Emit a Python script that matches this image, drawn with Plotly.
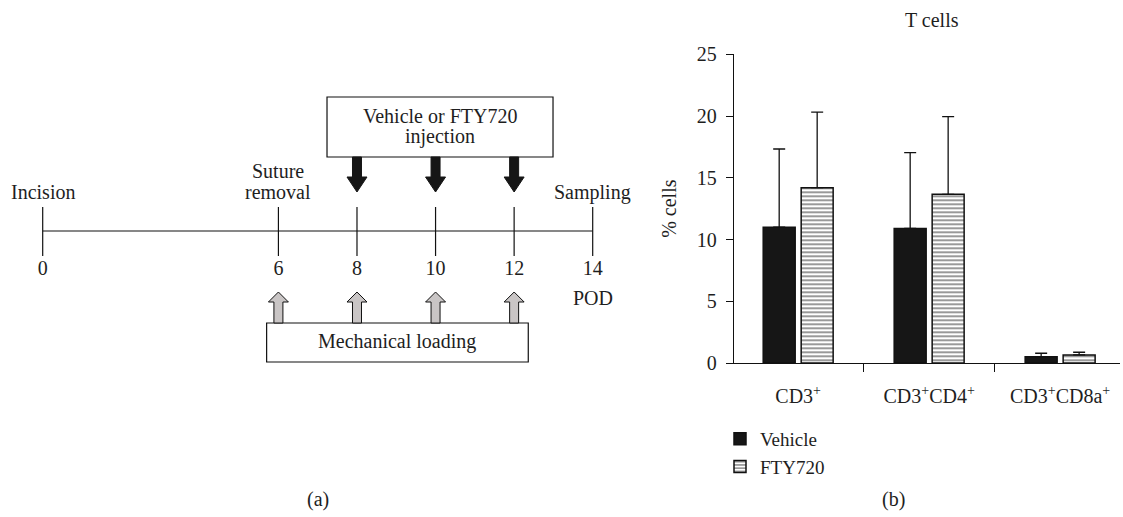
import plotly.graph_objects as go

# ---------------- data ----------------
CATEGORIES = ["CD3<sup>+</sup>", "CD3<sup>+</sup>CD4<sup>+</sup>", "CD3<sup>+</sup>CD8a<sup>+</sup>"]
VEHICLE_MEAN = [11.0, 10.9, 0.51]
VEHICLE_SD = [6.33, 6.13, 0.28]
FTY720_MEAN = [14.2, 13.66, 0.65]
FTY720_SD = [6.12, 6.29, 0.22]
SERIES_NAMES = ["Vehicle", "FTY720"]

TIMELINE_DAYS = [0, 6, 8, 10, 12, 14]
INJECTION_DAYS = [8, 10, 12]
LOADING_DAYS = [6, 8, 10, 12]
EVENT_DAYS = [0, 6, 14]
EVENT_LABELS = ["Incision", "Suture<br>removal", "Sampling"]
Y_TICKS = [0, 5, 10, 15, 20, 25]

# ---------------- style / layout constants ----------------
W, H = 1123, 517
FONT = "Liberation Serif"
TXT = "#1e1e1e"
FS = 20
LINE_H = 21  # line spacing of multi-line diagram labels (px)

# panel (a) axis: days on x, pixel rows on y
A_DOM_PX = (0, 640)
A_RANGE = (-1.087, 15.204)
PPD = (A_DOM_PX[1] - A_DOM_PX[0]) / (A_RANGE[1] - A_RANGE[0])  # px per day

fig = go.Figure()

# ---------- panel (b): bars ----------
fig.add_trace(go.Bar(
    x=CATEGORIES, y=VEHICLE_MEAN, name=SERIES_NAMES[0],
    marker=dict(color="#161616", line=dict(color="#111", width=1.5)),
    error_y=dict(type="data", symmetric=False, array=VEHICLE_SD,
                 arrayminus=[0] * len(VEHICLE_SD), color="#111", thickness=1.3, width=6),
    xaxis="x", yaxis="y",
))
fig.add_trace(go.Bar(
    x=CATEGORIES, y=FTY720_MEAN, name=SERIES_NAMES[1],
    marker=dict(color="white", line=dict(color="#111", width=1.5),
                pattern=dict(shape="-", fgcolor="#000", bgcolor="white", size=4, solidity=0.4)),
    error_y=dict(type="data", symmetric=False, array=FTY720_SD,
                 arrayminus=[0] * len(FTY720_SD), color="#111", thickness=1.3, width=6),
    xaxis="x", yaxis="y",
))

# ---------- panel (a): timeline ----------
tl_x, tl_y = [TIMELINE_DAYS[0], TIMELINE_DAYS[-1]], [231, 231]
fig.add_trace(go.Scatter(x=tl_x, y=tl_y, mode="lines", line=dict(color="#111", width=1.2),
                         xaxis="x2", yaxis="y2", showlegend=False, hoverinfo="skip"))
tx, ty = [], []
for d in TIMELINE_DAYS:
    tx += [d, d, None]
    ty += [207, 256, None]
fig.add_trace(go.Scatter(x=tx, y=ty, mode="lines", line=dict(color="#111", width=1.2),
                         xaxis="x2", yaxis="y2", showlegend=False, hoverinfo="skip"))
fig.add_trace(go.Scatter(x=TIMELINE_DAYS, y=[270] * len(TIMELINE_DAYS), mode="text",
                         text=[str(d) for d in TIMELINE_DAYS],
                         textfont=dict(family=FONT, size=FS, color=TXT),
                         xaxis="x2", yaxis="y2", showlegend=False, hoverinfo="skip"))

shapes = []
hw_s, hw_h = 4.5 / PPD, 10 / PPD
for d in INJECTION_DAYS:
    p = (f"M{d-hw_s},157 L{d+hw_s},157 L{d+hw_s},177 L{d+hw_h},177 L{d},192 "
         f"L{d-hw_h},177 L{d-hw_s},177 Z")
    shapes.append(dict(type="path", path=p, xref="x2", yref="y2",
                       fillcolor="#161616", line=dict(color="#161616", width=1)))
for d in LOADING_DAYS:
    p = (f"M{d-hw_s},323 L{d-hw_s},302 L{d-hw_h},302 L{d},292 L{d+hw_h},302 "
         f"L{d+hw_s},302 L{d+hw_s},323 Z")
    shapes.append(dict(type="path", path=p, xref="x2", yref="y2",
                       fillcolor="#c9c5c5", line=dict(color="#111", width=1)))

# boxes (x in days, y in pixel rows)
INJ_BOX = (7.237, 12.99, 97, 157)
LOAD_BOX = (5.70, 12.36, 323, 362)
for (x0, x1, y0, y1) in (INJ_BOX, LOAD_BOX):
    shapes.append(dict(type="rect", x0=x0, x1=x1, y0=y0, y1=y1, xref="x2", yref="y2",
                       fillcolor="white", line=dict(color="#111", width=1.2), layer="below"))


def ann(x, y, text, xref="x2", yref="y2", **kw):
    d = dict(x=x, y=y, xref=xref, yref=yref, text=text, showarrow=False,
             xanchor="center", yanchor="middle",
             font=dict(family=FONT, size=FS, color=TXT))
    d.update(kw)
    return d


def multiline(x, y_center, text):
    lines = text.split("<br>")
    y0 = y_center - LINE_H * (len(lines) - 1) / 2
    return [ann(x, y0 + i * LINE_H, ln) for i, ln in enumerate(lines)]


annotations = []
for d, lab in zip(EVENT_DAYS, EVENT_LABELS):
    n = len(lab.split("<br>"))
    annotations += multiline(d, 192 - LINE_H * (n - 1) / 2, lab)
annotations.append(ann(14, 298, "POD"))
annotations += multiline((INJ_BOX[0] + INJ_BOX[1]) / 2, (INJ_BOX[2] + INJ_BOX[3]) / 2 - 1,
                         "Vehicle or FTY720<br>injection")
annotations.append(ann((LOAD_BOX[0] + LOAD_BOX[1]) / 2, (LOAD_BOX[2] + LOAD_BOX[3]) / 2 - 1,
                       "Mechanical loading"))
annotations.append(ann(318 / W, 1 - 499 / H, "(a)", xref="paper", yref="paper"))
annotations.append(ann(893 / W, 1 - 499 / H, "(b)", xref="paper", yref="paper"))
annotations.append(ann(932 / W, 1 - 20 / H, "T cells", xref="paper", yref="paper"))

fig.update_layout(
    width=W, height=H,
    margin=dict(l=0, r=0, t=0, b=0, pad=0, autoexpand=False),
    paper_bgcolor="white", plot_bgcolor="rgba(0,0,0,0)",
    font=dict(family=FONT, size=FS, color=TXT),
    barmode="group", bargap=0.42, bargroupgap=0.158,
    shapes=shapes, annotations=annotations,
    showlegend=True,
    legend=dict(x=720 / W, y=1 - 420 / H, xanchor="left", yanchor="top",
                font=dict(family=FONT, size=19, color=TXT), bgcolor="rgba(0,0,0,0)",
                traceorder="normal", itemclick=False),
    xaxis=dict(domain=[734 / W, 1120 / W], anchor="y", range=[-0.49, 2.457],
               type="category", categoryorder="array", categoryarray=CATEGORIES,
               showline=True, linecolor="#111", linewidth=1.3, showgrid=False, zeroline=False,
               ticks="outside", tickson="boundaries", ticklen=8, tickcolor="#111", tickwidth=1.3,
               ticklabelstandoff=15, automargin=False,
               tickfont=dict(family=FONT, size=FS, color=TXT)),
    yaxis=dict(domain=[1 - 363 / H, 1 - 54.3 / H], anchor="x", range=[0, 25],
               tickvals=Y_TICKS, showline=True, linecolor="#111", linewidth=1.3,
               showgrid=False, zeroline=False, ticks="outside", ticklen=7, tickcolor="#111",
               tickwidth=1.3, ticklabelstandoff=5, automargin=False,
               tickfont=dict(family=FONT, size=FS, color=TXT),
               title=dict(text="% cells", standoff=14, font=dict(family=FONT, size=FS, color=TXT))),
    xaxis2=dict(domain=[A_DOM_PX[0] / W, A_DOM_PX[1] / W], anchor="y2", range=list(A_RANGE),
                visible=False, fixedrange=True, automargin=False),
    yaxis2=dict(domain=[0, 1], anchor="x2", range=[H, 0], visible=False, fixedrange=True,
                automargin=False),
)

fig.write_html("out.html", config={"displayModeBar": False},
               post_script="document.body.style.margin='0';")
